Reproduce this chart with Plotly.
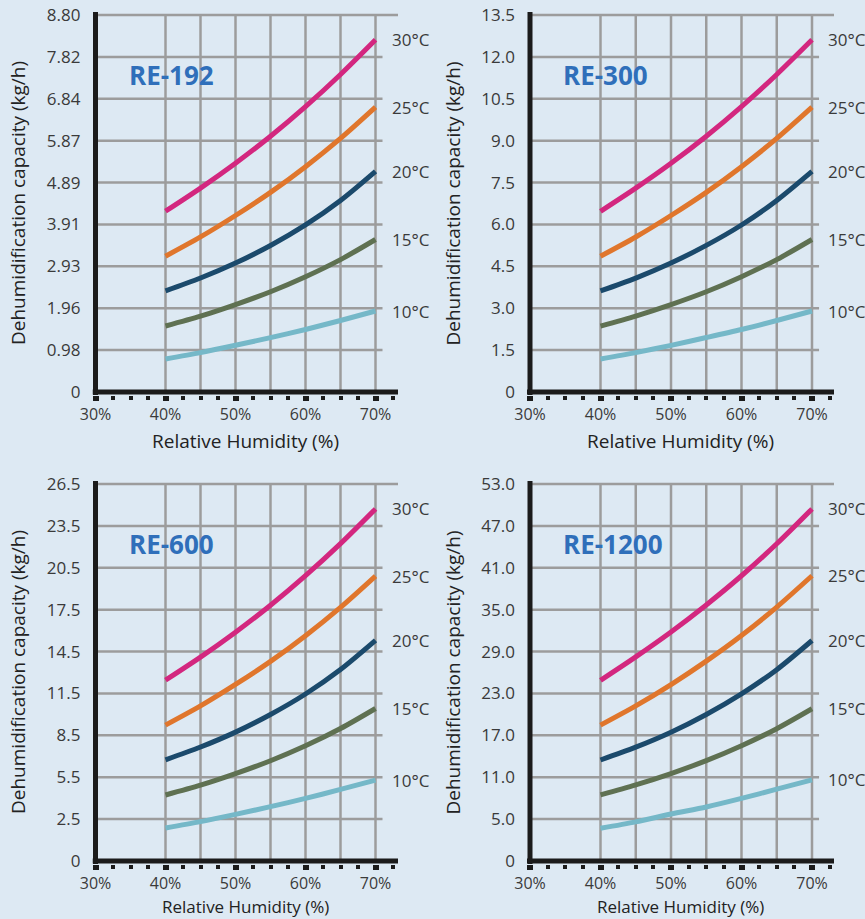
import numpy as np
import plotly.graph_objects as go

W, H = 865, 919

# ---------------- data ----------------
rh = [40, 45, 50, 55, 60, 65, 70]
x_tickvals = [30, 40, 50, 60, 70]
x_ticktext = ["30%", "40%", "50%", "60%", "70%"]
temp_labels = ["30°C", "25°C", "20°C", "15°C", "10°C"]
line_colors = ["#d3277f", "#e0762c", "#1b4a6c", "#5f7152", "#75b8c8"]

re192_30 = [4.22, 4.76, 5.34, 5.97, 6.66, 7.41, 8.22]
re192_25 = [3.17, 3.62, 4.12, 4.66, 5.26, 5.92, 6.65]
re192_20 = [2.36, 2.66, 3.01, 3.42, 3.90, 4.47, 5.15]
re192_15 = [1.54, 1.77, 2.04, 2.34, 2.69, 3.09, 3.56]
re192_10 = [0.77, 0.92, 1.09, 1.27, 1.46, 1.67, 1.89]

re300_30 = [6.47, 7.30, 8.19, 9.16, 10.22, 11.37, 12.61]
re300_25 = [4.86, 5.55, 6.32, 7.15, 8.07, 9.08, 10.20]
re300_20 = [3.62, 4.08, 4.62, 5.25, 5.98, 6.86, 7.90]
re300_15 = [2.36, 2.72, 3.13, 3.59, 4.13, 4.74, 5.46]
re300_10 = [1.18, 1.41, 1.67, 1.95, 2.24, 2.56, 2.90]

re600_30 = [12.71, 14.33, 16.08, 17.98, 20.06, 22.31, 24.75]
re600_25 = [9.55, 10.90, 12.41, 14.03, 15.84, 17.83, 20.03]
re600_20 = [7.11, 8.01, 9.06, 10.30, 11.74, 13.46, 15.51]
re600_15 = [4.64, 5.33, 6.14, 7.05, 8.10, 9.31, 10.72]
re600_10 = [2.32, 2.77, 3.28, 3.82, 4.40, 5.03, 5.69]

re1200_30 = [25.4, 28.7, 32.2, 36.0, 40.1, 44.6, 49.5]
re1200_25 = [19.1, 21.8, 24.8, 28.1, 31.7, 35.7, 40.1]
re1200_20 = [14.2, 16.0, 18.1, 20.6, 23.5, 26.9, 31.0]
re1200_15 = [9.3, 10.7, 12.3, 14.1, 16.2, 18.6, 21.4]
re1200_10 = [4.6, 5.5, 6.6, 7.6, 8.8, 10.1, 11.4]

re192_yticks = ["0", "0.98", "1.96", "2.93", "3.91", "4.89", "5.87", "6.84", "7.82", "8.80"]
re300_yticks = ["0", "1.5", "3.0", "4.5", "6.0", "7.5", "9.0", "10.5", "12.0", "13.5"]
re600_yticks = ["0", "2.5", "5.5", "8.5", "11.5", "14.5", "17.5", "20.5", "23.5", "26.5"]
re1200_yticks = ["0", "5.0", "11.0", "17.0", "23.0", "29.0", "35.0", "41.0", "47.0", "53.0"]

models = ["RE-192", "RE-300", "RE-600", "RE-1200"]
ymaxes = [8.8, 13.5, 26.5, 53.0]

panels = [
    dict(name=models[0], ymax=ymaxes[0], yticks=re192_yticks,
         series=[re192_30, re192_25, re192_20, re192_15, re192_10],
         ox=95.5, oy=392, top=15, right=398, x70=375.5,
         xt_shift=-46, xt_size=19),
    dict(name=models[1], ymax=ymaxes[1], yticks=re300_yticks,
         series=[re300_30, re300_25, re300_20, re300_15, re300_10],
         ox=530, oy=392, top=15, right=834, x70=812,
         xt_shift=-46, xt_size=19),
    dict(name=models[2], ymax=ymaxes[2], yticks=re600_yticks,
         series=[re600_30, re600_25, re600_20, re600_15, re600_10],
         ox=95.5, oy=861, top=484, right=398, x70=375.5,
         xt_shift=-42, xt_size=17),
    dict(name=models[3], ymax=ymaxes[3], yticks=re1200_yticks,
         series=[re1200_30, re1200_25, re1200_20, re1200_15, re1200_10],
         ox=530, oy=861, top=484, right=834, x70=812,
         xt_shift=-42, xt_size=17),
]

FONT = "'Open Sans', 'Noto Sans', sans-serif"
GRID = "#9c9c9c"
AXIS = "#1b1b1b"
TXT = "#3a3a3a"
PAD = 3.0

fig = go.Figure()
shapes = []
annotations = []

for i, p in enumerate(panels):
    n = "" if i == 0 else str(i + 1)
    xa, ya = "x" + n, "y" + n
    ppx = (p["x70"] - p["ox"]) / 40.0
    ppy = (p["oy"] - p["top"]) / p["ymax"]
    xlo = 30 - PAD / ppx
    xhi = 30 + (p["right"] - p["ox"]) / ppx
    ylo = -PAD / ppy
    yhi = p["ymax"] + PAD / ppy
    xd = [(p["ox"] - PAD) / W, p["right"] / W]
    yd = [(H - (p["oy"] + PAD)) / H, (H - (p["top"] - PAD)) / H]
    ytickvals = list(np.linspace(0, p["ymax"], len(p["yticks"])))

    for vals, col in zip(p["series"], line_colors):
        fig.add_trace(go.Scatter(
            x=rh, y=vals, mode="lines", xaxis=xa, yaxis=ya,
            line=dict(color=col, width=5, shape="spline", smoothing=0.8),
            showlegend=False, hoverinfo="skip"))

    fig.update_layout({
        ("xaxis" + n): dict(
            domain=xd, range=[xlo, xhi], anchor=ya, automargin=False,
            showgrid=False, zeroline=False, showline=False,
            tickvals=x_tickvals, ticktext=x_ticktext,
            ticks="outside", ticklen=5, tickwidth=6, tickcolor=AXIS,
            minor=dict(tick0=30, dtick=2.5, ticks="outside", ticklen=4,
                       tickwidth=4, tickcolor=AXIS, showgrid=False),
            tickfont=dict(family=FONT, size=16, color=TXT),
            ticklabelstandoff=0, fixedrange=True),
        ("yaxis" + n): dict(
            domain=yd, range=[ylo, yhi], anchor=xa, automargin=False,
            showgrid=False, zeroline=False, showline=False,
            tickvals=ytickvals, ticktext=p["yticks"], ticks="",
            tickfont=dict(family=FONT, size=17, color=TXT),
            ticklabelstandoff=11, fixedrange=True),
    })

    # vertical grid lines
    for gx in [40, 45, 50, 55, 60, 65, 70]:
        shapes.append(dict(type="line", xref=xa, yref=ya, x0=gx, x1=gx,
                           y0=0, y1=p["ymax"], layer="below",
                           line=dict(color=GRID, width=2.5)))
    # horizontal grid lines
    for k, gy in enumerate(ytickvals[1:]):
        x_end = xhi if k == len(ytickvals) - 2 else 71.0
        shapes.append(dict(type="line", xref=xa, yref=ya, x0=30, x1=x_end,
                           y0=gy, y1=gy, layer="below",
                           line=dict(color=GRID, width=2.5)))
    # axis lines
    shapes.append(dict(type="line", xref=xa, yref=ya, x0=30, x1=30,
                       y0=ylo, y1=yhi, layer="above",
                       line=dict(color=AXIS, width=5)))
    shapes.append(dict(type="line", xref=xa, yref=ya, x0=xlo, x1=xhi,
                       y0=0, y1=0, layer="above",
                       line=dict(color=AXIS, width=5)))

    # temperature labels
    for vals, t in zip(p["series"], temp_labels):
        annotations.append(dict(
            xref=xa + " domain", yref=ya, x=1, y=vals[-1], xshift=-8,
            xanchor="left", yanchor="middle", showarrow=False, text=t,
            font=dict(family=FONT, size=17, color=TXT)))
    # model title
    annotations.append(dict(
        xref=xa + " domain", yref=ya + " domain", x=0, y=1, xshift=34,
        yshift=-(75 - (15 - PAD)), xanchor="left", yanchor="middle",
        showarrow=False, text="<b>" + p["name"] + "</b>",
        font=dict(family=FONT, size=26, color="#2f6fba")))
    # axis titles
    annotations.append(dict(
        xref=xa + " domain", yref=ya + " domain", x=0.5, y=0,
        yshift=p["xt_shift"],
        xanchor="center", yanchor="middle", showarrow=False,
        text="Relative Humidity (%)",
        font=dict(family=FONT, size=p["xt_size"], color="#222222")))
    annotations.append(dict(
        xref=xa + " domain", yref=ya + " domain", x=0, y=0.5, xshift=-75,
        xanchor="center", yanchor="middle", showarrow=False, textangle=-90,
        text="Dehumidification capacity (kg/h)",
        font=dict(family=FONT, size=19, color="#222222")))

fig.update_layout(
    width=W, height=H, margin=dict(l=0, r=0, t=0, b=0, autoexpand=False),
    paper_bgcolor="#dde9f3", plot_bgcolor="rgba(0,0,0,0)",
    shapes=shapes, annotations=annotations, showlegend=False,
)

fig.write_html(
    "out.html",
    config={"displayModeBar": False},
    post_script=("document.body.style.margin='0';"
                 "document.body.style.overflow='hidden';"
                 "document.documentElement.style.overflow='hidden';"),
)
